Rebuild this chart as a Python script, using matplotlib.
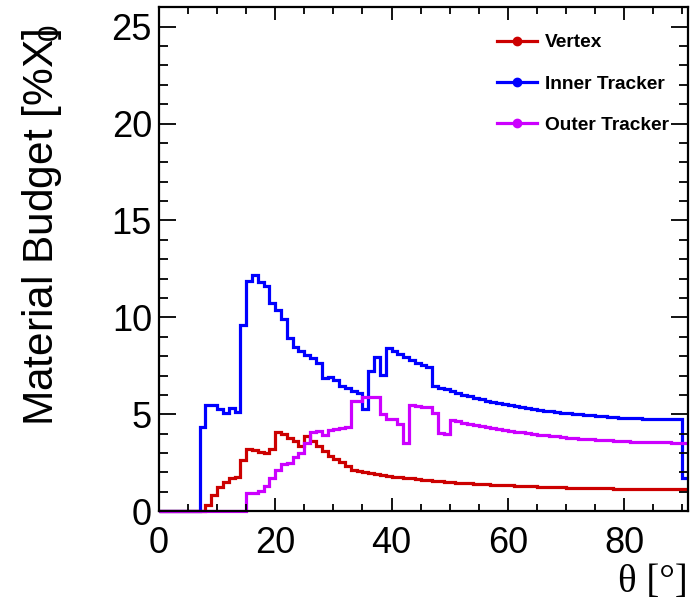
import matplotlib
matplotlib.use("Agg")
import matplotlib.pyplot as plt
from matplotlib.lines import Line2D
from matplotlib.ticker import MultipleLocator
import numpy as np

plt.rcParams["font.family"] = ["Liberation Sans", "DejaVu Sans"]
plt.rcParams["mathtext.fontset"] = "custom"
plt.rcParams["mathtext.rm"] = "Liberation Sans"

# 1 degree bins, 0..91
theta_edges = list(range(0, 92))

vertex = [0, 0, 0, 0, 0, 0, 0, 0,
          0.3, 0.84, 1.25, 1.49, 1.72, 1.77, 2.65, 3.22, 3.15, 3.05, 3.02, 3.22,
          4.1, 3.97, 3.8, 3.6, 3.35, 3.9, 3.62, 3.38, 3.12, 2.86,
          2.68, 2.52, 2.35, 2.14, 2.05, 2.0, 1.96, 1.91, 1.87, 1.83,
          1.79, 1.75, 1.72, 1.69, 1.66, 1.63, 1.6, 1.57, 1.55, 1.52,
          1.5, 1.48, 1.46, 1.44, 1.42, 1.4, 1.39, 1.37, 1.36, 1.34,
          1.33, 1.31, 1.3, 1.29, 1.28, 1.27, 1.26, 1.25, 1.24, 1.23,
          1.22, 1.22, 1.21, 1.2, 1.2, 1.19, 1.18, 1.18, 1.17, 1.17,
          1.17, 1.16, 1.16, 1.16, 1.16, 1.15, 1.15, 1.15, 1.15, 1.15,
          1.15]

inner_tracker = [0, 0, 0, 0, 0, 0, 0,
                 4.36, 5.48, 5.48, 5.27, 5.09, 5.3, 5.14, 9.6, 11.9, 12.2, 11.8, 11.6, 10.75,
                 10.4, 9.9, 8.95, 8.45, 8.28, 8.06, 7.9, 7.62, 6.86, 6.94,
                 6.77, 6.46, 6.34, 6.22, 6.12, 5.27, 7.22, 7.98, 7.03, 8.4,
                 8.25, 8.1, 7.94, 7.8, 7.65, 7.55, 7.44, 6.46, 6.38, 6.28,
                 6.18, 6.09, 6.0, 5.92, 5.84, 5.77, 5.7, 5.64, 5.58, 5.52,
                 5.47, 5.42, 5.37, 5.32, 5.27, 5.23, 5.19, 5.15, 5.11, 5.08,
                 5.05, 5.02, 4.99, 4.96, 4.94, 4.91, 4.89, 4.87, 4.85, 4.83,
                 4.81, 4.8, 4.79, 4.77, 4.76, 4.76, 4.75, 4.74, 4.74, 4.74,
                 1.7]

outer_tracker = [0, 0, 0, 0, 0, 0, 0, 0, 0, 0, 0, 0, 0, 0, 0,
                 0.95, 0.93, 1.02, 1.3, 1.7,
                 2.13, 2.42, 2.48, 2.8, 3.0, 3.5, 4.1, 4.12, 3.95, 4.2,
                 4.25, 4.29, 4.33, 5.67, 5.67, 5.87, 5.87, 5.87, 5.0, 4.75,
                 4.75, 4.48, 3.5, 5.48, 5.43, 5.4, 5.36, 5.05, 4.02, 4.0,
                 4.7, 4.63, 4.56, 4.5, 4.44, 4.38, 4.33, 4.28, 4.23, 4.19,
                 4.14, 4.1, 4.06, 4.02, 3.98, 3.95, 3.92, 3.89, 3.86, 3.83,
                 3.8, 3.77, 3.75, 3.72, 3.7, 3.68, 3.66, 3.65, 3.63, 3.62,
                 3.6, 3.59, 3.58, 3.57, 3.56, 3.56, 3.55, 3.55, 3.54, 3.54,
                 3.54]

names = ["Vertex", "Inner Tracker", "Outer Tracker"]
colors = ["#cc0000", "#0000ff", "#cc00ff"]
series = [vertex, inner_tracker, outer_tracker]

fig = plt.figure(figsize=(7, 6), dpi=100)
ax = fig.add_axes([0.227, 0.148, 0.756, 0.840])

for vals, c in zip(series, colors):
    ax.stairs(vals, theta_edges, color=c, linewidth=2.3, baseline=None, clip_on=False)

ax.set_xlim(0, 91)
ax.set_ylim(0, 26)

ax.xaxis.set_major_locator(MultipleLocator(20))
ax.xaxis.set_minor_locator(MultipleLocator(5))
ax.yaxis.set_major_locator(MultipleLocator(5))
ax.yaxis.set_minor_locator(MultipleLocator(1))
ax.tick_params(which="both", direction="in", top=True, right=True, width=1.3)
ax.tick_params(axis="x", which="major", length=9.5, labelsize=26, pad=11)
ax.tick_params(axis="x", which="minor", length=5)
ax.tick_params(axis="y", which="major", length=12.5, labelsize=26, pad=5)
ax.tick_params(axis="y", which="minor", length=6.5)
for s in ax.spines.values():
    s.set_linewidth(1.6)

ax.set_ylabel(r"Material Budget [%X$\mathregular{]_{\!\!\!0}}$", fontsize=30.5, loc="top")
ax.yaxis.set_label_coords(-0.18, 0.965)
ax.set_xlabel("θ [°]", fontsize=28, loc="right", family=["Liberation Serif", "DejaVu Serif"])
ax.xaxis.set_label_coords(1.0, -0.105)

handles = [Line2D([], [], color=c, linewidth=2.3, marker="o", markersize=6) for c in colors]
fig.legend(handles, names, loc="upper left", bbox_to_anchor=(497 / 700, 1 - 34 / 600),
           frameon=False, prop={"weight": "bold", "size": 13.8}, borderpad=0,
           borderaxespad=0, handlelength=2.1, handletextpad=0.42, labelspacing=1.25)

plt.savefig("out.png")
